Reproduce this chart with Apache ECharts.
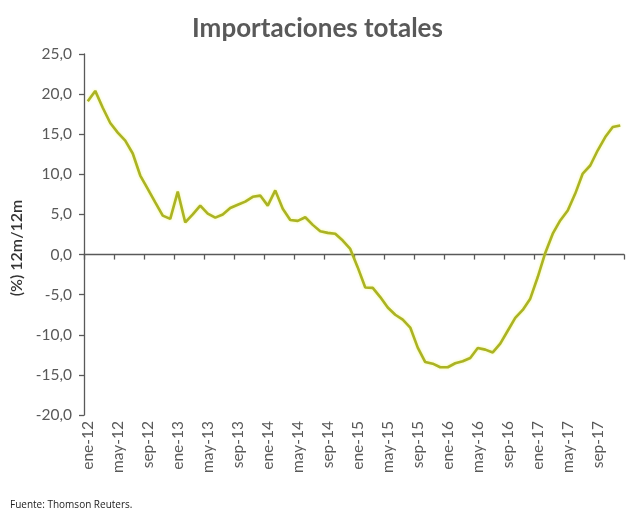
<!DOCTYPE html>
<html>
<head>
<meta charset="utf-8">
<script src="https://cdn.jsdelivr.net/npm/echarts@6/dist/echarts.min.js"></script>
<style>html,body{margin:0;padding:0;background:#fff}#c{width:635px;height:523px}</style>
</head>
<body>
<div id="c"></div>
<script>
var monthNames = ['ene','feb','mar','abr','may','jun','jul','ago','sep','oct','nov','dic'];
var years = ['12','13','14','15','16','17'];
var categories = [];
years.forEach(function(y){ monthNames.forEach(function(m){ categories.push(m + '-' + y); }); });

var importaciones = [
  19.1, 20.4, 18.3, 16.4, 15.2, 14.2, 12.6, 9.85, 8.2, 6.5, 4.85, 4.45,
  7.85, 4.0, 5.0, 6.1, 5.1, 4.6, 5.0, 5.8, 6.2, 6.6, 7.2, 7.35,
  6.1, 8.0, 5.7, 4.3, 4.2, 4.65, 3.7, 2.9, 2.7, 2.6, 1.75, 0.7,
  -1.6, -4.1, -4.15, -5.3, -6.6, -7.5, -8.1, -9.1, -11.6, -13.4, -13.6, -14.05,
  -14.05, -13.55, -13.3, -12.9, -11.65, -11.85, -12.2, -11.1, -9.5, -7.9, -6.9, -5.5,
  -2.8, 0.2, 2.6, 4.25, 5.5, 7.6, 10.1, 11.1, 13.0, 14.65, 15.9, 16.1
];

var yTicks = { min: -20, max: 25, interval: 5 };
var titleText = 'Importaciones totales';
var yName = '(%) 12m/12m';
var sourceText = 'Fuente: Thomson Reuters.';

var chart = echarts.init(document.getElementById('c'));
chart.setOption({
  animation: false,
  backgroundColor: '#fff',
  title: {
    text: titleText, left: 'center', top: 11,
    textStyle: { fontFamily: 'Lato', fontWeight: 'bold', fontSize: 26, color: '#595959' }
  },
  graphic: [{
    type: 'text', left: 10, top: 500,
    style: { text: sourceText, font: '10px "Open Sans"', fill: '#222' }
  }, {
    type: 'text', x: 17, y: 248, rotation: Math.PI / 2,
    style: { text: yName, font: '600 16px Lato', fill: '#333', align: 'center', verticalAlign: 'middle' }
  }],
  grid: { left: 84, right: 11, top: 54, bottom: 108, containLabel: false },
  xAxis: [{
    type: 'category', data: categories, boundaryGap: true, position: 'bottom',
    axisLine: { show: false, onZero: false }, axisTick: { show: false },
    axisLabel: { interval: 3, rotate: 90, margin: 6, fontFamily: 'Lato', fontSize: 15.5, color: '#595959' }
  }, {
    type: 'category', data: categories, boundaryGap: true, position: 'top',
    axisLine: { show: true, onZero: true, lineStyle: { color: '#595959', width: 1.3 } },
    axisTick: { show: true, inside: true, interval: 3, length: 5, lineStyle: { color: '#595959', width: 1.3 } },
    axisLabel: { show: false }
  }],
  yAxis: {
    type: 'value', min: yTicks.min, max: yTicks.max, interval: yTicks.interval,
    axisLine: { show: true, lineStyle: { color: '#595959', width: 1.3 } },
    axisTick: { show: true, length: 5, lineStyle: { color: '#595959', width: 1.3 } },
    splitLine: { show: false },
    axisLabel: {
      margin: 12, fontFamily: 'Lato', fontSize: 15.5, color: '#595959',
      formatter: function(v){ return v.toFixed(1).replace('.', ','); }
    }
  },
  series: [{
    type: 'line', xAxisIndex: 0, data: importaciones, showSymbol: false,
    lineStyle: { color: '#abb324', width: 2.6, shadowColor: 'rgba(230,240,60,0.6)', shadowBlur: 3 },
    itemStyle: { color: '#abb324' }
  }]
});
</script>
</body>
</html>
